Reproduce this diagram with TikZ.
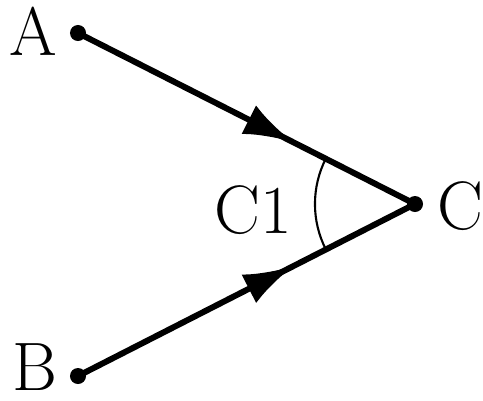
\documentclass[tikz,border=0pt]{standalone}
\usepackage{tikz}
\usetikzlibrary{arrows.meta, calc, decorations.markings}

\begin{document}
\begin{tikzpicture}[x=0.01cm, y=-0.01cm,
    every node/.style={font=\fontsize{19.5}{22}\selectfont, inner sep=0pt},
    pt/.style={circle, fill=black, minimum size=0.16cm, inner sep=0pt},
    ray/.style={line width=1.7pt, draw=black,
                postaction={decorate, decoration={markings,
                  mark=at position 0.64 with {\arrow{Latex[length=0.5cm, width=0.32cm]}}}}},
    anglearc/.style={line width=0.6pt, draw=black}
]
\useasboundingbox (0,0) rectangle (483,400);

% === Points ===
\node[pt] (A) at (78,33) {};
\node[pt] (B) at (78,376) {};
\node[pt] (C) at (415,204) {};

\node (la) at (33,31) {A};
\node (lb) at (35,367) {B};
\node (lc) at (460,206) {C};

% === Rays into C ===
\draw[ray] (A.center) -- (C.center);
\draw[ray] (B.center) -- (C.center);

% === Angle at C ===
\draw[anglearc] ($(C.center)!1cm!(A.center)$) arc[start angle=153.1, end angle=206.9, radius=1cm];
\node (lc1) at (253,210) {C1};

\end{tikzpicture}
\end{document}
